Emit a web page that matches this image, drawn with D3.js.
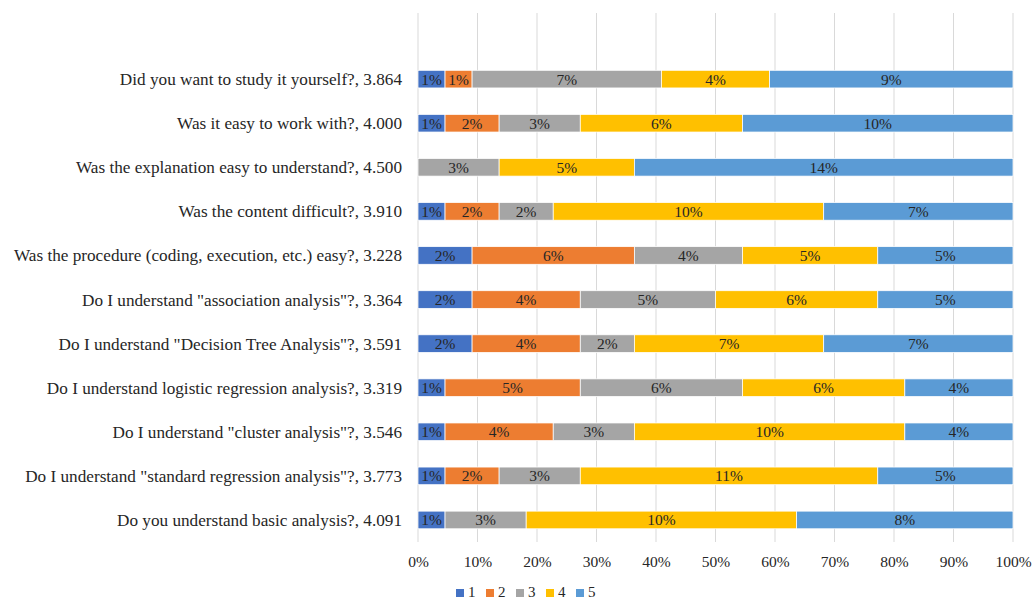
<!DOCTYPE html>
<html>
<head>
<meta charset="utf-8">
<script src="https://cdn.jsdelivr.net/npm/d3@7"></script>
<style>
  body { margin: 0; background: #fff; }
  text { font-family: "Liberation Serif", "Times New Roman", serif; }
</style>
</head>
<body>
<script>
var questions = [
    "Did you want to study it yourself?, 3.864",
    "Was it easy to work with?, 4.000",
    "Was the explanation easy to understand?, 4.500",
    "Was the content difficult?, 3.910",
    "Was the procedure (coding, execution, etc.) easy?, 3.228",
    "Do I understand \"association analysis\"?, 3.364",
    "Do I understand \"Decision Tree Analysis\"?, 3.591",
    "Do I understand logistic regression analysis?, 3.319",
    "Do I understand \"cluster analysis\"?, 3.546",
    "Do I understand \"standard regression analysis\"?, 3.773",
    "Do you understand basic analysis?, 4.091"
];
var levels = ["1", "2", "3", "4", "5"];
var s1 = [1, 1, 0, 1, 2, 2, 2, 1, 1, 1, 1];
var s2 = [1, 2, 0, 2, 6, 4, 4, 5, 4, 2, 0];
var s3 = [7, 3, 3, 2, 4, 5, 2, 6, 3, 3, 3];
var s4 = [4, 6, 5, 10, 5, 6, 7, 6, 10, 11, 10];
var s5 = [9, 10, 14, 7, 5, 5, 7, 4, 4, 5, 8];
var xTicks = [0, 0.1, 0.2, 0.3, 0.4, 0.5, 0.6, 0.7, 0.8, 0.9, 1];
var colors = ["#4472C4", "#ED7D31", "#A5A5A5", "#FFC000", "#5B9BD5"];

var width = 1032;
var height = 601;
var plotLeft = 418, plotRight = 1013, plotTop = 13, plotBottom = 542;

var series = [s1, s2, s3, s4, s5];
var rows = questions.map(function(q, i) {
    var r = { q: q };
    levels.forEach(function(l, j) { r[l] = series[j][i]; });
    return r;
});

var stacked = d3.stack().keys(levels).offset(d3.stackOffsetExpand)(rows);

var svg = d3.select("body").append("svg").attr("width", width).attr("height", height);

// one empty band at the top, like the original
var yScale = d3.scaleBand()
    .domain([""].concat(questions))
    .range([plotTop, plotBottom])
    .paddingInner(0.6)
    .paddingOuter(0.3);

var xScale = d3.scaleLinear().domain([0, 1]).range([plotLeft, plotRight]);

// gridlines
svg.append("g")
    .selectAll("line")
    .data(xTicks)
    .enter()
    .append("line")
    .attr("x1", function(d) { return xScale(d); })
    .attr("x2", function(d) { return xScale(d); })
    .attr("y1", plotTop)
    .attr("y2", plotBottom)
    .attr("stroke", "#D9D9D9")
    .attr("stroke-width", 1);

// bars
var layer = svg.append("g")
    .selectAll("g")
    .data(stacked)
    .enter()
    .append("g")
    .attr("fill", function(d, i) { return colors[i]; });

layer.selectAll("rect")
    .data(function(d) { return d; })
    .enter()
    .append("rect")
    .attr("x", function(d) { return xScale(d[0]); })
    .attr("y", function(d) { return yScale(d.data.q); })
    .attr("width", function(d) { return xScale(d[1]) - xScale(d[0]); })
    .attr("height", yScale.bandwidth())
    .attr("stroke", "#fff")
    .attr("stroke-width", 0.75);

// data labels (counts shown with a % sign, as in the original)
layer.selectAll("text")
    .data(function(d) {
        return d.map(function(p) { p.key = d.key; return p; })
            .filter(function(p) { return p.data[d.key] > 0; });
    })
    .enter()
    .append("text")
    .attr("x", function(d) { return (xScale(d[0]) + xScale(d[1])) / 2; })
    .attr("y", function(d) { return yScale(d.data.q) + yScale.bandwidth() / 2; })
    .attr("dy", "0.35em")
    .attr("text-anchor", "middle")
    .attr("fill", "#262626")
    .style("font-size", "15.5px")
    .text(function(d) { return d.data[d.key] + "%"; });

// category labels
svg.append("g")
    .selectAll("text")
    .data(questions)
    .enter()
    .append("text")
    .attr("x", plotLeft - 16)
    .attr("y", function(d) { return yScale(d) + yScale.bandwidth() / 2; })
    .attr("dy", "0.35em")
    .attr("text-anchor", "end")
    .attr("fill", "#262626")
    .style("font-size", "17.2px")
    .text(function(d) { return d; });

// x axis
var xAxis = svg.append("g")
    .attr("transform", "translate(0," + plotBottom + ")")
    .call(d3.axisBottom(xScale).tickValues(xTicks).tickFormat(d3.format(".0%")).tickSize(0).tickPadding(14));
xAxis.select(".domain").remove();
xAxis.selectAll("text")
    .attr("fill", "#262626")
    .style("font-size", "15.5px")
    .style("font-family", "'Liberation Serif', 'Times New Roman', serif");

// legend
var legend = svg.append("g")
    .selectAll("g")
    .data(levels)
    .enter()
    .append("g")
    .attr("transform", function(d, i) { return "translate(" + (456 + i * 30) + ",589)"; });

legend.append("rect")
    .attr("width", 8)
    .attr("height", 8)
    .attr("fill", function(d, i) { return colors[i]; });

legend.append("text")
    .attr("x", 12)
    .attr("y", 8)
    .attr("fill", "#262626")
    .style("font-size", "15px")
    .text(function(d) { return d; });
</script>
</body>
</html>
